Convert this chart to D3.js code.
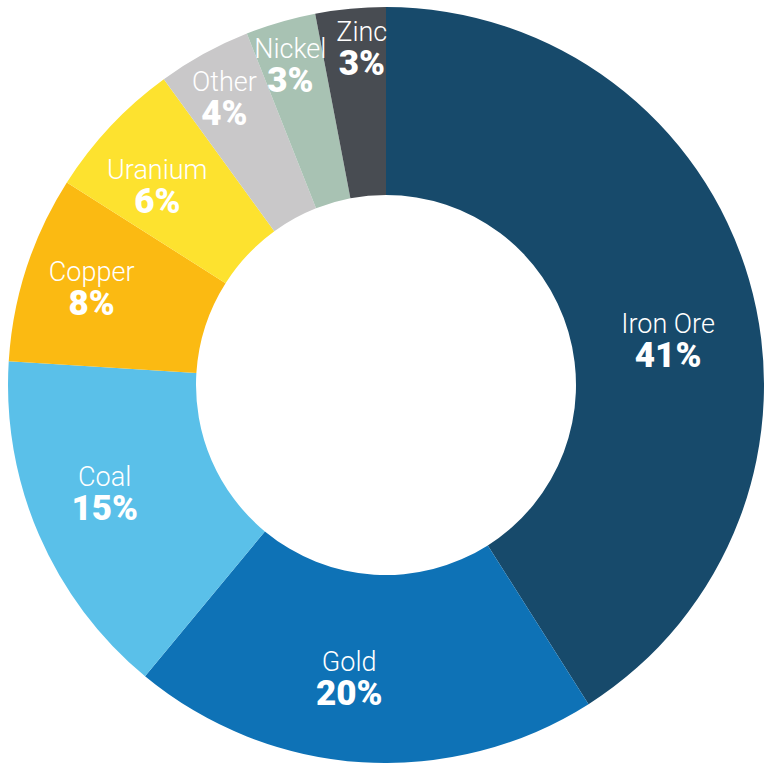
<!DOCTYPE html>
<html>
<head>
<meta charset="utf-8">
<script src="https://cdn.jsdelivr.net/npm/d3@7"></script>
<style>
  html, body { margin: 0; padding: 0; background: #fff; }
  svg { display: block; }
  .lab text { font-family: Roboto, "Open Sans", sans-serif; fill: #fff; }
  .name { font-weight: 300; }
  .pct { font-weight: 900; }
</style>
</head>
<body>
<svg id="chart" width="764" height="763"></svg>
<script>
// data
var categories = ["Iron Ore", "Gold", "Coal", "Copper", "Uranium", "Other", "Nickel", "Zinc"];
var shares = [41, 20, 15, 8, 6, 4, 3, 3];
var colours = ["#174a6b", "#0e72b6", "#5ac0e9", "#fbba12", "#fde22f", "#c9c8c9", "#a8c2b3", "#484c52"];

// hand nudges for the labels (px), same order as categories
var labelNudge = [[-6, 42], [-18, -3], [-6, -8], [-9, -1], [-10, 9], [-17, -21], [-12, -29], [4, -35]];

var cx = 386, cy = 385;
var outerR = 378, innerR = 190, labelR = 300;

var svg = d3.select("#chart");
var g = svg.append("g").attr("transform", "translate(" + cx + "," + cy + ")");

var pie = d3.pie().sort(null).value(function(d) { return d.v; });
var arc = d3.arc().innerRadius(innerR).outerRadius(outerR);
var labelArc = d3.arc().innerRadius(labelR).outerRadius(labelR);

var rows = categories.map(function(c, i) { return {name: c, v: shares[i], i: i}; });
var arcs = pie(rows);

g.selectAll("path.slice")
    .data(arcs)
    .enter().append("path")
    .attr("class", "slice")
    .attr("d", arc)
    .attr("fill", function(d) { return colours[d.data.i]; });

var lab = g.selectAll("g.lab")
    .data(arcs)
    .enter().append("g")
    .attr("class", "lab")
    .attr("transform", function(d) {
        var p = labelArc.centroid(d);
        var n = labelNudge[d.data.i];
        return "translate(" + (p[0] + n[0]) + "," + (p[1] + n[1]) + ")";
    });

// name and percentage share one text element, two lines
var t = lab.append("text")
    .attr("text-anchor", "middle");

t.append("tspan")
    .attr("class", "name")
    .attr("x", 0)
    .attr("y", -10)
    .style("font-size", "27px")
    .text(function(d) { return d.data.name; });

t.append("tspan")
    .attr("class", "pct")
    .attr("x", 0)
    .attr("y", 24)
    .style("font-size", "35px")
    .text(function(d) { return d.data.v + "%"; });
</script>
</body>
</html>
